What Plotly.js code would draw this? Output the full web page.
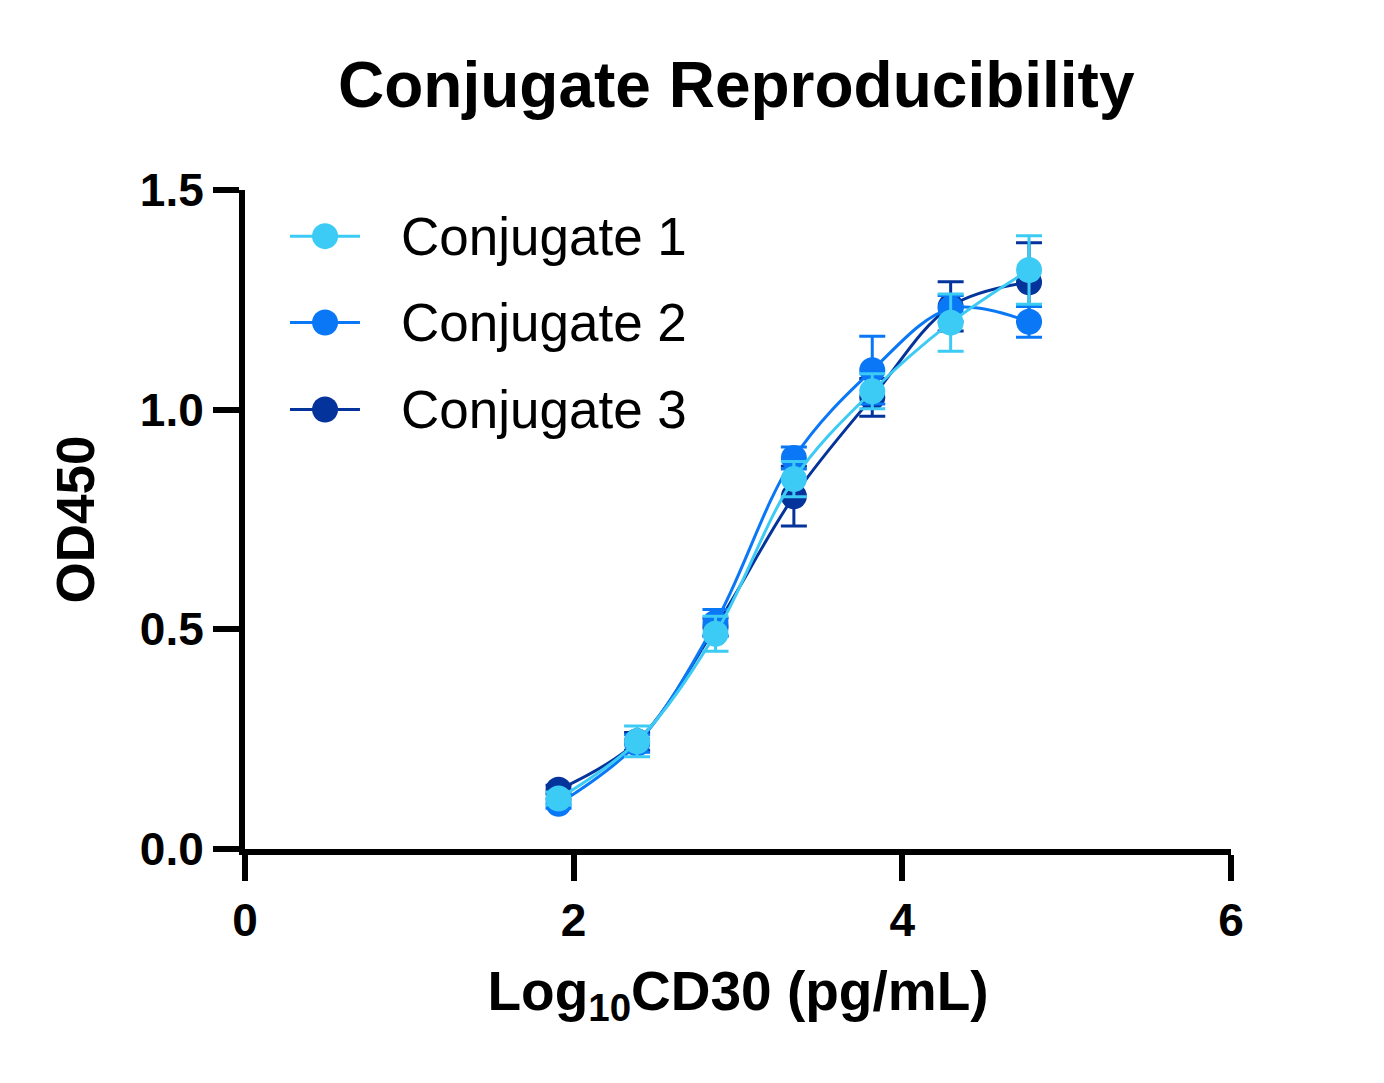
<!DOCTYPE html>
<html>
<head>
<meta charset="utf-8">
<script src="https://cdn.plot.ly/plotly-3.0.1.min.js"></script>
<style>
  html, body { margin: 0; padding: 0; background: #fff; }
  #chart { width: 1384px; height: 1083px; }
</style>
</head>
<body>
<div id="chart"></div>
<script>
// log10 concentration, 3-fold dilution series
const logConc = [1.908, 2.386, 2.863, 3.340, 3.817, 4.294, 4.771];

const conj1 = [0.115, 0.245, 0.490, 0.842, 1.042, 1.198, 1.318];
const conj1Err = [0.015, 0.035, 0.040, 0.040, 0.040, 0.065, 0.078];

const conj2 = [0.103, 0.240, 0.515, 0.890, 1.090, 1.230, 1.200];
const conj2Err = [0.010, 0.020, 0.030, 0.025, 0.077, 0.030, 0.035];

const conj3 = [0.135, 0.245, 0.505, 0.803, 1.028, 1.235, 1.290];
const conj3Err = [0.010, 0.020, 0.020, 0.068, 0.043, 0.056, 0.090];

const seriesNames = ["Conjugate 1", "Conjugate 2", "Conjugate 3"];
const colors = ["#3ccbf4", "#0a78f6", "#05339c"];

const FONT = "Liberation Sans, Arial, sans-serif";

function makeTrace(name, y, err, color) {
    return {
        x: logConc,
        y,
        name,
        type: "scatter",
        mode: "lines+markers",
        line: { color, width: 3, shape: "spline", smoothing: 1 },
        marker: { color, size: 26 },
        error_y: { type: "data", array: err, visible: true, color, thickness: 3, width: 13 },
        showlegend: false,
        cliponaxis: false,
    };
}

// draw order: 3 at the back, 1 on top
const traces = [
    makeTrace(seriesNames[2], conj3, conj3Err, colors[2]),
    makeTrace(seriesNames[1], conj2, conj2Err, colors[1]),
    makeTrace(seriesNames[0], conj1, conj1Err, colors[0]),
];

// Prism-style legend, built from shapes + annotations (paper coords)
const legendRows = [0.930, 0.799, 0.667];
const legLine = [0.0456, 0.1166];
const legMark = 0.0812;
const legText = 0.156;

const shapes = [];
const annotations = [];
seriesNames.forEach((name, i) => {
    const yy = legendRows[i];
    shapes.push({
        type: "line", xref: "paper", yref: "paper",
        x0: legLine[0], x1: legLine[1], y0: yy, y1: yy,
        line: { color: colors[i], width: 3 },
    });
    shapes.push({
        type: "circle", xref: "paper", yref: "paper",
        xsizemode: "pixel", ysizemode: "pixel",
        xanchor: legMark, yanchor: yy,
        x0: -13, x1: 13, y0: -13, y1: 13,
        fillcolor: colors[i], line: { width: 0 },
    });
    annotations.push({
        xref: "paper", yref: "paper", x: legText, y: yy,
        xanchor: "left", yanchor: "middle", showarrow: false,
        text: name, font: { family: FONT, size: 53, color: "#000" },
    });
});

const axisBase = {
    showgrid: false,
    zeroline: false,
    showline: true,
    linecolor: "#000",
    linewidth: 6,
    ticks: "outside",
    ticklen: 26,
    tickwidth: 6,
    tickcolor: "#000",
    tickfont: { family: FONT, size: 46, color: "#000", weight: "bold" },
};

const layout = {
    width: 1384,
    height: 1083,
    paper_bgcolor: "#fff",
    plot_bgcolor: "#fff",
    margin: { l: 245, r: 153, t: 190, b: 234 },
    font: { family: FONT, color: "#000" },
    title: {
        text: "<b>Conjugate Reproducibility</b>",
        font: { size: 64, color: "#000" },
        x: 0.532, xanchor: "center",
        y: 0.922, yanchor: "middle",
    },
    xaxis: {
        ...axisBase,
        range: [0, 6],
        tickvals: [0, 2, 4, 6],
        title: { text: "<b>Log<sub>10</sub>CD30 (pg/mL)</b>", font: { size: 55 }, standoff: 28 },
    },
    yaxis: {
        ...axisBase,
        range: [0, 1.5],
        tickvals: [0, 0.5, 1.0, 1.5],
        tickformat: ".1f",
        title: { text: "<b>OD450</b>", font: { size: 53 }, standoff: 30 },
    },
    showlegend: false,
    shapes,
    annotations,
};

Plotly.newPlot("chart", traces, layout, { displayModeBar: false, staticPlot: true });
</script>
</body>
</html>
